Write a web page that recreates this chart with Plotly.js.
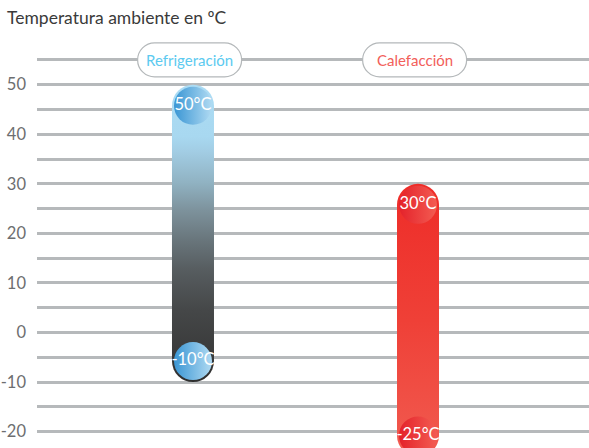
<!DOCTYPE html>
<html><head><meta charset="utf-8">
<script src="https://cdn.plot.ly/plotly-3.0.1.min.js"></script>
<style>html,body{margin:0;padding:0;background:#fff}#chart{width:589px;height:448px}</style>
</head><body><div id="chart"></div>
<script>
// ---- data ----
const categories = ['Refrigeración', 'Calefacción'];
const lowValues = [-10, -25];
const highValues = [50, 30];
const highLabels = ['50°C', '30°C'];
const lowLabels = ['-10°C', '-25°C'];
const yTickValues = [-20, -10, 0, 10, 20, 30, 40, 50];
const yTickLabels = ['-20', '-10', '0', '10', '20', '30', '40', '50'];
const legendColors = ['#5ccaf0', '#f2605a'];
const titleText = 'Temperatura ambiente en ºC';

// ---- geometry helpers ----
const Y1 = 57, MT = 50, H = 448;
const pxPerUnit = 4.957;
const Y0 = Y1 - (H - MT) / pxPerUnit;
const capR = 21;
const capOffset = capR / pxPerUnit;
const mids = lowValues.map((lo, i) => (lo + highValues[i]) / 2);
const barW = 42 / 225;
const pillY = 55;
const pillYPaper = (pillY - Y0) / (Y1 - Y0);

const traces = [
  { type: 'bar', x: categories, base: mids.map(m => m - 2 * capOffset),
    y: highValues.map((h, i) => h - (mids[i] - 2 * capOffset)),
    width: barW, marker: { color: ['#90b2c2', '#ef4037'], cornerradius: capR, line: { width: 0 } },
    hoverinfo: 'skip', showlegend: false },
  { type: 'bar', x: categories, base: mids.map(m => m + 2 * capOffset),
    y: lowValues.map((l, i) => l - (mids[i] + 2 * capOffset)),
    width: barW, marker: { color: ['#454748', '#f15b50'], cornerradius: capR, line: { width: 0 } },
    hoverinfo: 'skip', showlegend: false },
  { type: 'scatter', mode: 'markers+text', x: categories, y: highValues.map(v => v - capOffset),
    text: highLabels, textposition: 'middle center', cliponaxis: false,
    textfont: { family: 'Lato, sans-serif', size: 16.5, color: '#ffffff' },
    marker: { size: 38, color: ['#3a96d4', '#e4222a'], line: { width: 0 },
      gradient: { type: 'horizontal', color: ['#b0daf2', '#f35c52'] } },
    hoverinfo: 'skip', showlegend: false },
  { type: 'scatter', mode: 'markers+text', x: categories, y: lowValues.map(v => v + capOffset),
    text: lowLabels, textposition: 'middle center', cliponaxis: false,
    textfont: { family: 'Lato, sans-serif', size: 16.5, color: '#ffffff' },
    marker: { size: 38, color: ['#3a96d4', '#e4222a'], line: { width: 0 },
      gradient: { type: 'horizontal', color: ['#b0daf2', '#f35c52'] } },
    hoverinfo: 'skip', showlegend: false }
];

// pill path (pixel coords relative to anchor)
const hw = 52, hh = 17, s = hw - hh, k = 0.5523 * hh;
const pill = `M ${-s} ${-hh} L ${s} ${-hh} C ${s + k} ${-hh} ${hw} ${-k} ${hw} 0 C ${hw} ${k} ${s + k} ${hh} ${s} ${hh} L ${-s} ${hh} C ${-s - k} ${hh} ${-hw} ${k} ${-hw} 0 C ${-hw} ${-k} ${-s - k} ${-hh} ${-s} ${-hh} Z`;

const shapes = categories.map((c, i) => ({
  type: 'path', xref: 'x', yref: 'paper', xsizemode: 'pixel', ysizemode: 'pixel',
  xanchor: i - 0.015, yanchor: pillYPaper, path: pill,
  fillcolor: '#ffffff', line: { color: '#b4b8ba', width: 1.2 }, layer: 'above'
}));
const annotations = categories.map((c, i) => ({
  text: c, x: i - 0.015, y: pillYPaper, xref: 'x', yref: 'paper',
  xanchor: 'center', yanchor: 'middle', showarrow: false,
  font: { family: 'Lato, sans-serif', size: 15, color: legendColors[i] }
}));

const layout = {
  width: 589, height: 448,
  margin: { l: 37, r: 0, t: MT, b: 0 },
  paper_bgcolor: '#ffffff', plot_bgcolor: '#ffffff',
  barmode: 'overlay',
  title: { text: titleText, x: 7 / 589, xanchor: 'left', xref: 'container',
    y: 1 - 18 / 448, yanchor: 'middle', yref: 'container',
    font: { family: 'Lato, sans-serif', size: 17.5, color: '#3a3a3a' } },
  xaxis: { type: 'category', range: [-0.6933, 1.76], showgrid: false, zeroline: false,
    showticklabels: false, showline: false, fixedrange: true },
  yaxis: { range: [Y0, Y1], tickmode: 'array', tickvals: yTickValues, ticktext: yTickLabels,
    showgrid: true, gridcolor: '#b6b9bb', gridwidth: 3, zeroline: false, showline: false,
    ticks: '', ticklabelstandoff: 10,
    tickfont: { family: 'Lato, sans-serif', size: 16.5, color: '#6d6e70' },
    minor: { dtick: 5, tick0: 0, showgrid: true, gridcolor: '#b6b9bb', gridwidth: 3 },
    fixedrange: true },
  shapes: shapes,
  annotations: annotations
};

const gd = document.getElementById('chart');
Plotly.newPlot(gd, traces, layout, { displayModeBar: false, staticPlot: true }).then(() => {
  const svg = gd.querySelector('svg.main-svg');
  const defs = svg.querySelector('defs');
  const NS = 'http://www.w3.org/2000/svg';
  const toPx = v => (Y1 - v) * pxPerUnit; // plot-area pixel
  function grad(id, top, bottom, stops) {
    const g = document.createElementNS(NS, 'linearGradient');
    g.setAttribute('id', id);
    g.setAttribute('gradientUnits', 'userSpaceOnUse');
    g.setAttribute('x1', '0'); g.setAttribute('y1', toPx(top));
    g.setAttribute('x2', '0'); g.setAttribute('y2', toPx(bottom));
    stops.forEach(([o, c]) => {
      const st = document.createElementNS(NS, 'stop');
      st.setAttribute('offset', o); st.setAttribute('stop-color', c);
      g.appendChild(st);
    });
    defs.appendChild(g);
  }
  grad('gCool', highValues[0], lowValues[0], [[0, '#acdcf4'], [0.175, '#a8d8f0'], [0.224, '#a2cde4'],
    [0.33, '#90b2c2'], [0.422, '#7d929c'], [0.521, '#69767c'], [0.62, '#575d60'],
    [0.759, '#454748'], [0.9, '#3a3b3b'], [1, '#2e2e2e']]);
  grad('gHeat', highValues[1], lowValues[1], [[0, '#ee2c28'], [0.5, '#ef4037'], [1, '#f15b50']]);
  const ids = ['gCool', 'gHeat'];
  gd.querySelectorAll('.barlayer .trace').forEach(t => {
    t.querySelectorAll('.point path').forEach((p, pi) => {
      p.style.fill = `url(#${ids[pi]})`;
    });
  });
});
</script>
</body></html>
